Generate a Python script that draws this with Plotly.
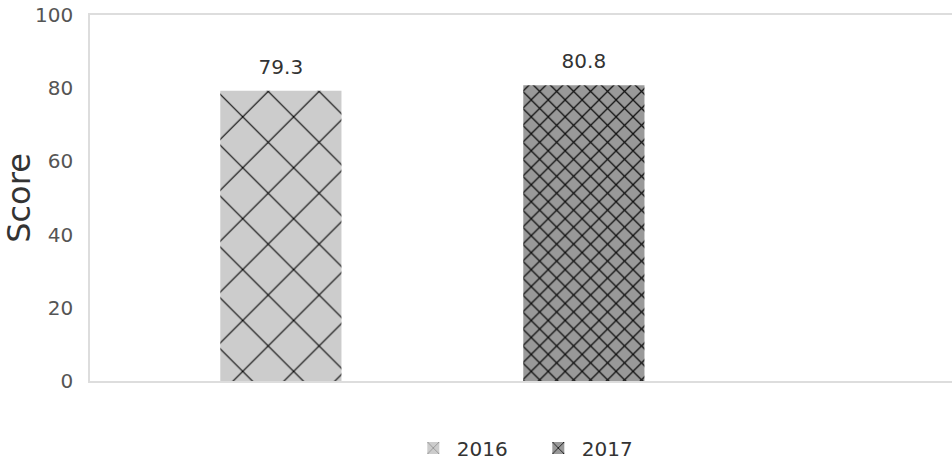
import plotly.graph_objects as go

years = ["2016", "2017"]
scores = [79.3, 80.8]
fills = ["#cccccc", "#999999"]
pattern_sizes = [36, 12]
pattern_solidity = [0.06, 0.2]
pattern_fg = ["#000000", "#111111"]
y_ticks = [0, 20, 40, 60, 80, 100]

FONT = "DejaVu Sans"

fig = go.Figure()
for yr, sc, fc, ps, so, fg in zip(years, scores, fills, pattern_sizes, pattern_solidity, pattern_fg):
    fig.add_trace(go.Bar(
        x=[yr], y=[sc], name=yr, width=0.4,
        marker=dict(color=fc, line=dict(width=0),
                    pattern=dict(shape="x", size=ps, solidity=so, fgcolor=fg, bgcolor=fc,
                                 fgopacity=1, fillmode="overlay")),
        hoverinfo="skip",
    ))

# value labels above the bars
fig.add_trace(go.Scatter(
    x=years, y=scores, mode="markers+text",
    text=[f"{s:.1f}" for s in scores], textposition="top center",
    marker=dict(size=18, color="rgba(0,0,0,0)"),
    textfont=dict(family=FONT, size=20, color="#333333"),
    showlegend=False, hoverinfo="skip", cliponaxis=False,
))

fig.update_layout(
    width=952, height=464,
    margin=dict(l=90, r=0, t=15, b=83, autoexpand=False),
    paper_bgcolor="white", plot_bgcolor="white",
    barmode="overlay",
    font=dict(family=FONT, size=20, color="#555555"),
    showlegend=True,
    legend=dict(orientation="h", x=0.371, xanchor="left", y=-0.183, yanchor="middle",
                font=dict(family=FONT, size=20, color="#333333"),
                itemwidth=37, traceorder="normal",
                entrywidth=73, entrywidthmode="pixels"),
    xaxis=dict(type="category", categoryorder="array", categoryarray=years,
               range=[-0.63, 2.215], showticklabels=False, ticks="",
               showline=True, linecolor="#dddddd", linewidth=1.5, mirror=True,
               showgrid=False, zeroline=False),
    yaxis=dict(range=[0, 100], tickvals=y_ticks, showgrid=False, zeroline=False,
               showline=True, linecolor="#dddddd", linewidth=1.5,
               ticks="", ticklabelstandoff=11,
               tickfont=dict(family=FONT, size=20, color="#555555"),
               title=dict(text="Score", font=dict(family=FONT, size=32, color="#333333"),
                          standoff=2)),
)

fig.write_html("out.html",
               config={"displayModeBar": False},
               post_script="document.body.style.margin='0';document.body.style.overflow='hidden';")
